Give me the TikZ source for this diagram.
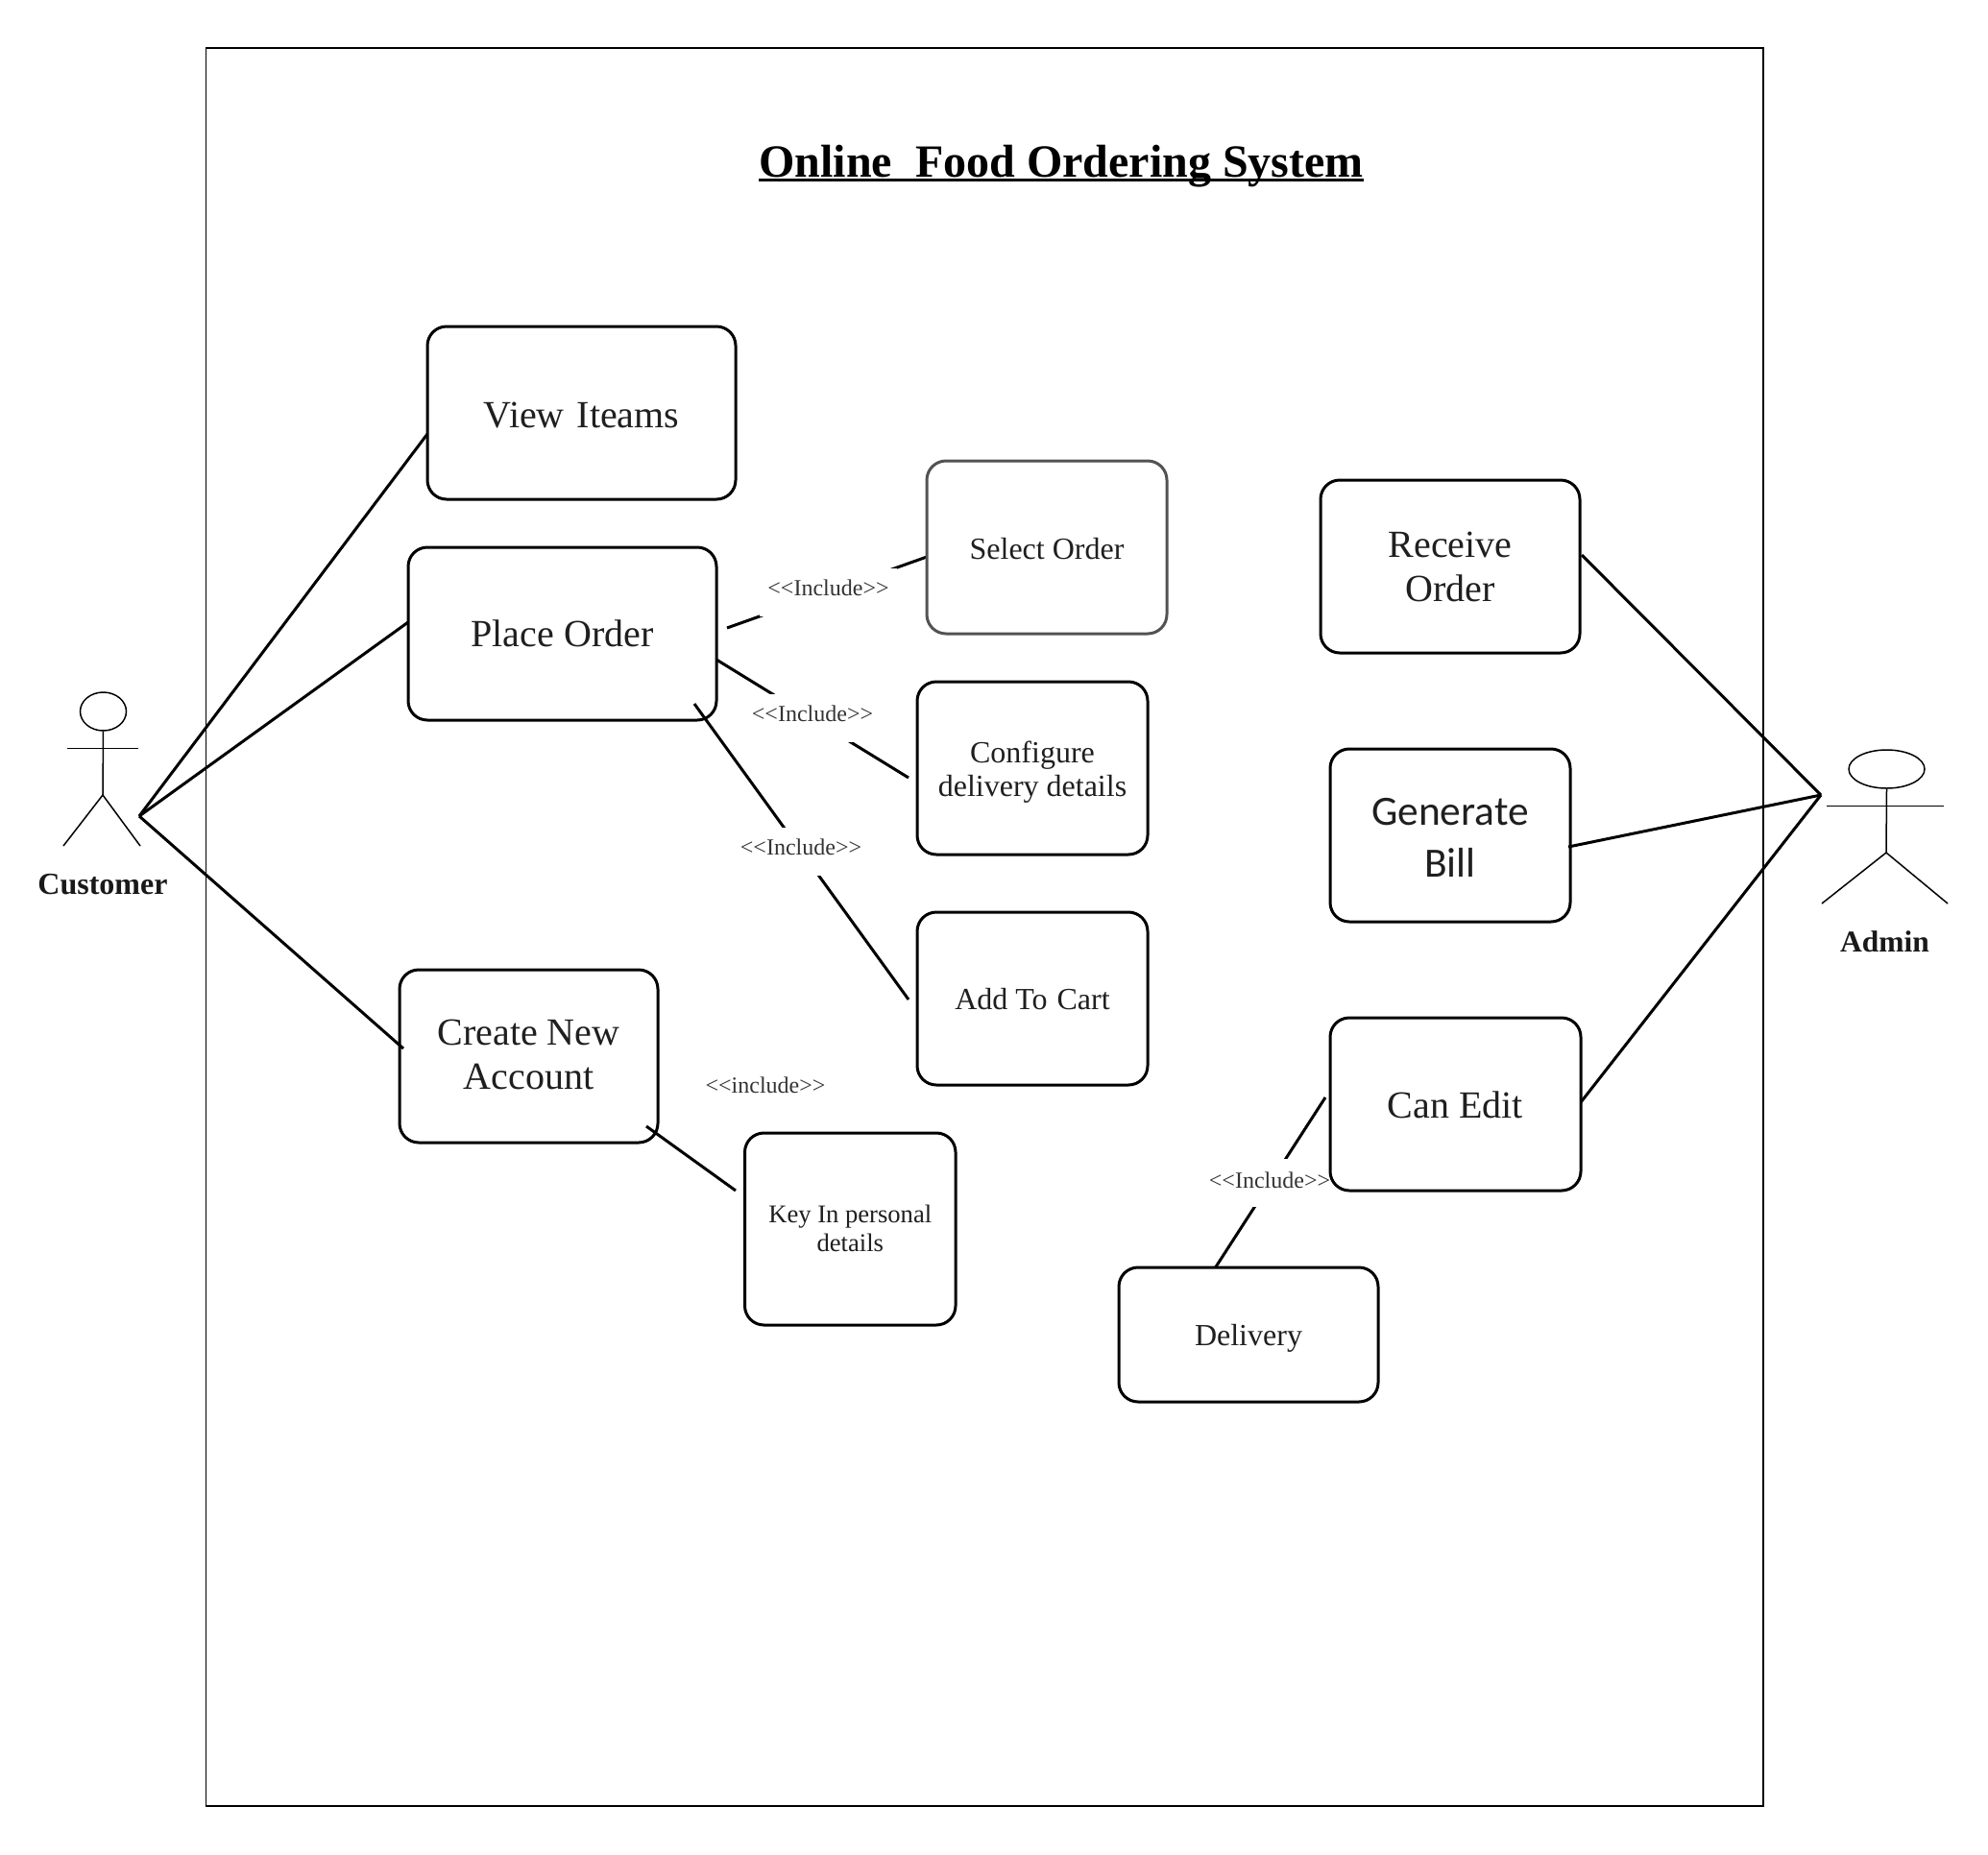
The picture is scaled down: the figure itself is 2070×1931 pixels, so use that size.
\documentclass[tikz,border=0pt]{standalone}
\usepackage{fontspec}
\usetikzlibrary{shapes.geometric}
\setmainfont{Liberation Serif}
\newfontfamily\carlitofont{Carlito}
\newcommand{\bt}[2]{\raisebox{#1pt}[0pt][0pt]{\begin{tabular}[t]{@{}c@{}}#2\end{tabular}}}
\newcommand{\inc}[1]{{<}{<}#1{>}{>}}
\tikzset{
  ucbox/.style={draw=black,line width=3pt,rounded corners=20pt,inner sep=0pt,text=black!88},
  big/.style={font=\fontsize{40}{46}\selectfont},
  mid/.style={font=\fontsize{32}{35.6}\selectfont},
  conn/.style={draw=black,line width=3pt},
  inclabel/.style={fill=white,inner xsep=8pt,inner ysep=0pt,text height=28.8pt,text depth=21.2pt,text=black!80,font=\fontsize{24}{26}\selectfont,anchor=base},
  actorline/.style={draw=black,line width=1.5pt},
  actorname/.style={font=\fontsize{31.5}{34}\selectfont\bfseries,text=black!90,anchor=base,inner sep=0pt},
}
\begin{document}
\begin{tikzpicture}[x=1pt,y=-1pt]
\fill[white] (0,0) rectangle (2070,1931);
\useasboundingbox (0,0) rectangle (2070,1931);
% system frame
\node[draw=black,line width=1.4pt,inner sep=0pt,minimum width=1621.5pt,minimum height=1831pt] (frame) at (1025.25,965.5) {};
% title
\node[font=\fontsize{48}{53}\selectfont\bfseries,inner sep=0pt,anchor=base] (title) at (1105,184.3) {Online~~Food Ordering System};
\draw[line width=2.4pt] ([yshift=-3pt]title.base west) -- ([yshift=-3pt]title.base east);
% customer actor
\node[draw=black,line width=1.5pt,ellipse,inner sep=0pt,minimum width=48pt,minimum height=40pt] (custhead) at (107.5,741) {};
\coordinate (custwaist) at (107,828);
\coordinate (custarml) at (70,779.7);
\coordinate (custarmr) at (144,779.7);
\coordinate (custlegl) at (66,881);
\coordinate (custlegr) at (146,881);
\draw[actorline] (custhead.south) -- (custwaist);
\draw[actorline] (custarml) -- (custarmr);
\draw[actorline] (custlegl) -- (custwaist) -- (custlegr);
\node[actorname,font=\fontsize{32}{34}\selectfont\bfseries] (custname) at (107,931) {Customer};
% admin actor
\node[draw=black,line width=1.5pt,ellipse,inner sep=0pt,minimum width=79pt,minimum height=40pt] (adminhead) at (1964.5,801) {};
\coordinate (adminwaist) at (1964,888);
\coordinate (adminarml) at (1902,839.7);
\coordinate (adminarmr) at (2024,839.7);
\coordinate (adminlegl) at (1897,941);
\coordinate (adminlegr) at (2028,941);
\draw[actorline] (adminhead.south) -- (adminwaist);
\draw[actorline] (adminarml) -- (adminarmr);
\draw[actorline] (adminlegl) -- (adminwaist) -- (adminlegr);
\node[actorname] (adminname) at (1962.5,991) {Admin};
% connector ends
\coordinate (cust) at (145,850);
\coordinate (admin) at (1896,828);
\coordinate (viewin) at (445,452);
\coordinate (placein) at (425,648);
\coordinate (createin) at (420,1092);
\coordinate (receivein) at (1647,578);
\coordinate (billin) at (1633,882);
\coordinate (editin) at (1646,1148);
\coordinate (placea) at (757,654);
\coordinate (selecta) at (965,580);
\coordinate (placeb) at (746,687);
\coordinate (configb) at (946,810);
\coordinate (placec) at (723,733);
\coordinate (cartc) at (946,1041);
\coordinate (created) at (673,1173);
\coordinate (keyd) at (766,1240);
\coordinate (delive) at (1265.6,1320);
\coordinate (edite) at (1380,1143);
% connectors
\draw[conn] (cust) -- (viewin);
\draw[conn] (cust) -- (placein);
\draw[conn] (cust) -- (createin);
\draw[conn] (admin) -- (receivein);
\draw[conn] (admin) -- (billin);
\draw[conn] (admin) -- (editin);
\draw[conn] (placea) -- (selecta);
\draw[conn] (placeb) -- (configb);
\draw[conn] (placec) -- (cartc);
\draw[conn] (created) -- (keyd);
\draw[conn] (delive) -- (edite);
% labels
\node[inclabel] (inc1) at (862.5,620.8) {\inc{Include}};
\node[inclabel] (inc2) at (846,751.8) {\inc{Include}};
\node[inclabel] (inc3) at (834,890.8) {\inc{Include}};
\node[inclabel,text height=30pt,text depth=20pt] (inc4) at (1322,1237) {\inc{Include}};
\node[font=\fontsize{24}{26}\selectfont,text=black!80,anchor=base,inner sep=0pt] (inc5) at (797,1138.3) {\inc{include}};
% use cases
\node[ucbox,big,minimum width=321pt,minimum height=180pt] (view) at (605.5,430) {\bt{-15.3}{View\hspace{3pt} Iteams}};
\node[ucbox,big,minimum width=321pt,minimum height=180pt] (place) at (585.5,660) {\bt{-13.3}{Place Order}};
\node[ucbox,mid,draw=black!68,minimum width=250pt,minimum height=180pt] (select) at (1090,570) {\bt{-12}{Select Order}};
\node[ucbox,mid,minimum width=240pt,minimum height=180pt] (config) at (1075,800) {\bt{6}{Configure\\delivery details}};
\node[ucbox,mid,minimum width=240pt,minimum height=180pt] (cart) at (1075,1040) {\bt{-11.5}{Add To\hspace{2pt} Cart}};
\node[ucbox,big,minimum width=269pt,minimum height=180pt] (create) at (550.5,1100) {\bt{11.7}{Create New\\Account}};
\node[ucbox,font=\fontsize{26.6}{30.6}\selectfont,minimum width=219.5pt,minimum height=200pt] (key) at (885.25,1280) {\bt{6.7}{Key In personal\\details}};
\node[ucbox,big,minimum width=270pt,minimum height=180pt] (receive) at (1510,590) {\bt{9.7}{Receive\\Order}};
\node[ucbox,font=\fontsize{43.4}{54}\selectfont\carlitofont,minimum width=250pt,minimum height=180pt] (bill) at (1510,870) {\bt{10.7}{Generate\\Bill}};
\node[ucbox,big,minimum width=261pt,minimum height=180pt] (edit) at (1515.5,1150) {\bt{-14.5}{Can Edit}};
\node[ucbox,mid,minimum width=270pt,minimum height=140pt] (delivery) at (1300,1390) {\bt{-11.7}{Delivery}};
\end{tikzpicture}
\end{document}
